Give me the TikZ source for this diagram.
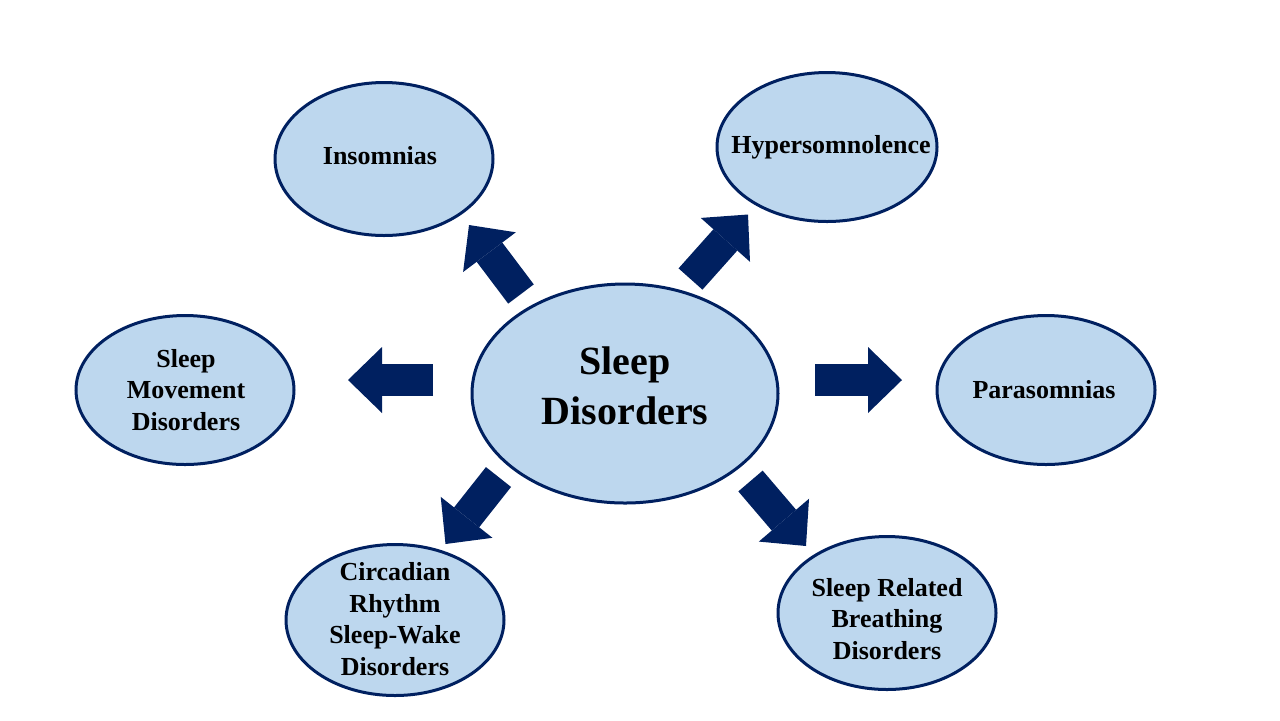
\documentclass[tikz,border=0pt]{standalone}
\usepackage{fontspec}
\setmainfont{Liberation Serif}
\usetikzlibrary{shapes.geometric,arrows.meta}
\definecolor{navy}{HTML}{002060}
\definecolor{lblue}{HTML}{BDD7EE}
\begin{document}
\begin{tikzpicture}[x=0.5pt,y=-0.5pt,
  bubble/.style={ellipse,draw=navy,fill=lblue,line width=1.5pt,inner sep=0pt},
  lbl/.style={align=center,inner sep=0pt,font=\fontsize{13}{15.75}\selectfont\bfseries},
  biglbl/.style={align=center,inner sep=0pt,font=\fontsize{20}{25}\selectfont\bfseries},
  bigarrow/.style={draw=navy,line width=16pt,-{Triangle[width=33pt,length=17pt,line width=0pt]}}]
\useasboundingbox (0,0) rectangle (1280,720);
% ellipses
\node[bubble,minimum width=153pt,minimum height=109.5pt] (c) at (625,393.5) {};
\node[bubble,minimum width=109pt,minimum height=76.5pt] (ins) at (384,159) {};
\node[bubble,minimum width=110pt,minimum height=74.5pt] (hyp) at (827,147) {};
\node[bubble,minimum width=109pt,minimum height=74.5pt] (smd) at (185,390) {};
\node[bubble,minimum width=109pt,minimum height=74.5pt] (par) at (1046,390) {};
\node[bubble,minimum width=109pt,minimum height=75.5pt] (cir) at (395,620) {};
\node[bubble,minimum width=109pt,minimum height=76.5pt] (srb) at (887,613) {};
% labels
\node[biglbl] (ct) at (625,386) {Sleep\\Disorders};
\node[lbl] (inst) at (380,156) {Insomnias};
\node[lbl] (hypt) at (831,147) {Hypersomnolence};
\node[lbl] (smdt) at (186,390) {Sleep\\Movement\\Disorders};
\node[lbl] (part) at (1044,390) {Parasomnias};
\node[lbl] (cirt) at (395,619) {Circadian\\Rhythm\\Sleep-Wake\\Disorders};
\node[lbl] (srbt) at (887,619) {Sleep Related\\Breathing\\Disorders};
% arrow ends
\coordinate (a1s) at (521,294);   \coordinate (a1e) at (469,225);
\coordinate (a2s) at (690.5,279); \coordinate (a2e) at (748,214.5);
\coordinate (a3s) at (433,380);   \coordinate (a3e) at (348,380);
\coordinate (a4s) at (815,380);   \coordinate (a4e) at (902,380);
\coordinate (a5s) at (498.5,477); \coordinate (a5e) at (445.5,544);
\coordinate (a6s) at (750.5,481); \coordinate (a6e) at (806,546);
\foreach \i in {1,...,6}{\draw[bigarrow] (a\i s) -- (a\i e);}
\end{tikzpicture}
\end{document}
